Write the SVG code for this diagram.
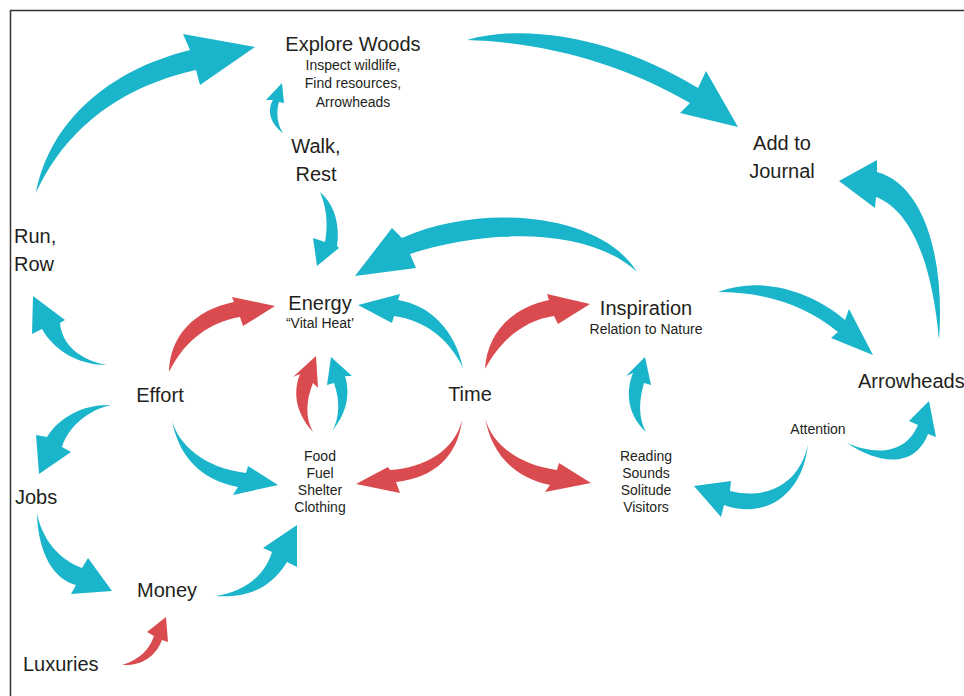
<svg xmlns="http://www.w3.org/2000/svg" width="964" height="696" viewBox="0 0 964 696">
<style>
.t{fill:#1AB5CA}
.r{fill:#D94B4F}
text{font-family:"Liberation Sans",Arial,sans-serif;fill:#231F20;text-anchor:middle}
.L{font-size:20px}
.S{font-size:14px}
.st{text-anchor:start}
</style>
<rect x="0" y="0" width="964" height="696" fill="#fff"/>
<path d="M10.5,696 V10.5 H964" fill="none" stroke="#333" stroke-width="1.5"/>
<g id="connectors">
<path class="t" d="M36,193 C 50,120 110,70 190,50 L183,34 L255,47 L200,85 L196,70 C 130,85 70,120 36,193 Z"/>
<path class="t" d="M467,40 C 530,22 620,40 698,88 L706,71 L738,127 L680,113 L690,103 C 620,62 540,42 467,40 Z"/>
<path class="t" d="M939,340 C 945,260 925,185 877,172 L877,160 L839,181 L875,208 L876,197 C 910,210 932,260 939,340 Z"/>
<path class="t" d="M637,272 C 600,212 480,203 402,238 L392,228 L355,276 L416,268 L410,254 C 490,228 590,228 637,272 Z"/>
<path class="t" d="M283,133 C 268,122 268,108 273,100 L266,100 L282,83 L284,103 L279,102 C 276,112 277,124 283,133 Z"/>
<path class="t" d="M320,192 C 335,205 340,225 337,246 L339,248 L317,266 L313,238 L325,242 C 328,225 327,208 320,192 Z"/>
<path class="r" d="M169,372 C 170,335 195,310 234,302 L232,297 L275,306 L243,326 L240,317 C 210,322 185,340 169,372 Z"/>
<path class="t" d="M463,368 C 455,330 430,305 398,300 L400,294 L358,305 L392,323 L394,316 C 425,320 450,340 463,368 Z"/>
<path class="r" d="M313,432 C 295,412 293,392 300,374 L293,377 L316,356 L318,388 L313,383 C 306,400 305,418 313,432 Z"/>
<path class="t" d="M332,431 C 348,412 350,392 345,376 L352,376 L331,357 L327,385 L334,383 C 340,400 340,418 332,431 Z"/>
<path class="t" d="M172,420 C 178,445 205,468 246,473 L248,466 L278,485 L233,495 L238,487 C 200,480 178,455 172,420 Z"/>
<path class="r" d="M462,420 C 455,450 425,468 390,470 L388,467 L356,484 L400,493 L396,482 C 435,478 458,455 462,420 Z"/>
<path class="r" d="M485,369 C 487,335 510,308 549,300 L547,294 L590,304 L558,324 L554,316 C 525,320 500,340 485,369 Z"/>
<path class="r" d="M485,418 C 492,445 520,465 557,470 L559,463 L591,483 L545,492 L550,485 C 515,478 492,455 485,418 Z"/>
<path class="t" d="M646,432 C 628,415 625,393 633,373 L626,376 L645,357 L651,385 L644,383 C 639,400 638,418 646,432 Z"/>
<path class="t" d="M718,292 C 760,276 810,290 845,320 L849,309 L873,355 L831,338 L838,332 C 805,305 765,292 718,292 Z"/>
<path class="t" d="M847,443 C 880,465 915,468 928,434 L936,437 L929,401 L909,421 L918,425 C 905,455 875,455 847,443 Z"/>
<path class="t" d="M808,444 C 803,495 765,520 724,505 L721,517 L694,486 L731,481 L730,491 C 765,500 800,485 808,444 Z"/>
<path class="t" d="M107,365 C 80,360 62,345 60,323 L65,320 L33,296 L32,334 L42,329 C 55,352 80,365 107,365 Z"/>
<path class="t" d="M111,405 C 85,404 60,416 47,437 L36,435 L39,474 L71,452 L62,447 C 68,427 88,410 111,405 Z"/>
<path class="t" d="M37,513 C 38,555 55,580 76,585 L71,594 L112,591 L88,558 L82,568 C 60,560 42,540 37,513 Z"/>
<path class="t" d="M215,596 C 245,592 265,575 272,552 L263,548 L297,525 L297,567 L287,562 C 270,590 245,598 215,596 Z"/>
<path class="r" d="M122,665 C 140,660 150,648 154,636 L147,632 L166,617 L168,642 L162,640 C 155,658 140,666 122,665 Z"/>
</g>
<g id="explore"><text class="L" x="353" y="51">Explore Woods</text><text class="S" x="353" y="70">Inspect wildlife,</text><text class="S" x="353" y="88">Find resources,</text><text class="S" x="353" y="107">Arrowheads</text></g>
<g id="walk"><text class="L" x="316" y="153">Walk,</text><text class="L" x="316" y="181">Rest</text></g>
<g id="run"><text class="L st" x="14" y="243">Run,</text><text class="L st" x="14" y="271">Row</text></g>
<g id="journal"><text class="L" x="782" y="150">Add to</text><text class="L" x="782" y="178">Journal</text></g>
<g id="energy"><text class="L" x="320" y="310">Energy</text><text class="S" x="320" y="328">“Vital Heat’</text></g>
<g id="effort"><text class="L" x="160" y="402">Effort</text></g>
<g id="time"><text class="L" x="470" y="401">Time</text></g>
<g id="inspiration"><text class="L" x="646" y="315">Inspiration</text><text class="S" x="646" y="334">Relation to Nature</text></g>
<g id="arrowheads"><text class="L st" x="858" y="388">Arrowheads</text></g>
<g id="attention"><text class="S" x="818" y="434">Attention</text></g>
<g id="food"><text class="S" x="320" y="461">Food</text><text class="S" x="320" y="478">Fuel</text><text class="S" x="320" y="495">Shelter</text><text class="S" x="320" y="512">Clothing</text></g>
<g id="reading"><text class="S" x="646" y="461">Reading</text><text class="S" x="646" y="478">Sounds</text><text class="S" x="646" y="495">Solitude</text><text class="S" x="646" y="512">Visitors</text></g>
<g id="jobs"><text class="L st" x="15" y="504">Jobs</text></g>
<g id="money"><text class="L" x="167" y="597">Money</text></g>
<g id="luxuries"><text class="L st" x="23" y="671">Luxuries</text></g>
</svg>
